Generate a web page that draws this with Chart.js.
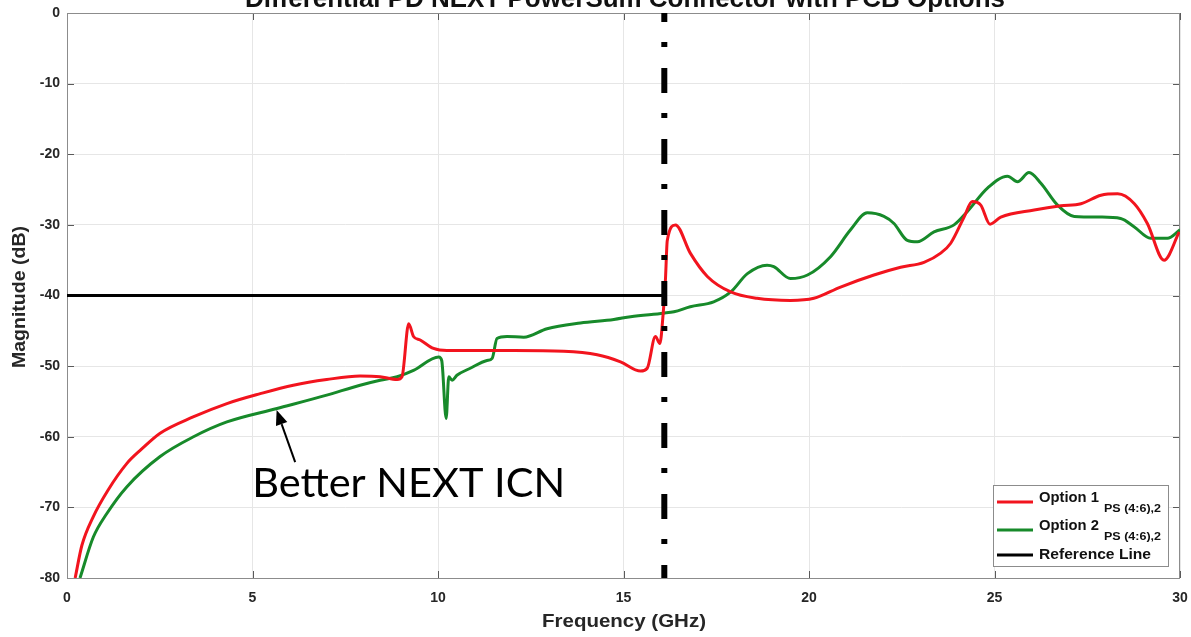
<!DOCTYPE html>
<html><head><meta charset="utf-8">
<script src="https://cdn.jsdelivr.net/npm/chart.js@4/dist/chart.umd.min.js"></script>
<style>html,body{margin:0;padding:0;background:#fff;overflow:hidden}</style></head>
<body><canvas id="c" width="1191" height="637"></canvas>
<script>
const xTicks = [0, 5, 10, 15, 20, 25, 30];
const yTicks = [0, -10, -20, -30, -40, -50, -60, -70, -80];

const opt1X = [0.22,0.4,0.7,1.1,1.61,2.0,2.51,3.4,4.31,5.21,6.1,7.0,7.9,8.44,8.9,9.03,9.21,9.34,9.52,9.88,10.24,12.04,13.39,14.29,14.92,15.46,15.64,15.86,15.98,16.07,16.13,16.18,16.4,16.8,17.26,17.89,18.6,19.5,20.13,20.85,21.75,22.47,23.1,23.55,23.82,24.18,24.4,24.63,24.88,25.17,26.07,26.79,27.33,27.87,28.32,28.77,29.12,29.57,29.98];
const opt1Y = [-80,-75.4,-71.4,-67.6,-63.8,-61.8,-59.5,-57.2,-55.3,-53.9,-52.7,-51.9,-51.4,-51.5,-51.9,-51.5,-44.0,-45.8,-46.3,-47.5,-47.8,-47.8,-47.9,-48.4,-49.4,-50.7,-50.3,-45.8,-46.8,-42.5,-37.8,-32.2,-30.0,-34.0,-37.3,-39.5,-40.4,-40.7,-40.4,-38.8,-37.1,-36.0,-35.3,-34.0,-32.6,-28.9,-26.7,-27.2,-29.9,-28.9,-27.9,-27.3,-27.0,-25.8,-25.6,-27.0,-29.8,-35.0,-31.0];

const opt2X = [0.35,0.71,1.07,1.61,2.51,3.41,4.31,5.66,7.0,7.9,8.44,8.9,9.34,10.02,10.1,10.22,10.29,10.38,10.51,10.87,11.32,11.46,11.59,11.86,12.31,12.94,13.84,14.74,15.19,16.08,16.36,16.8,17.43,17.89,18.34,18.87,19.05,19.5,19.96,20.58,21.12,21.57,22.02,22.29,22.65,22.92,23.37,23.91,24.27,24.81,25.35,25.62,25.93,26.25,26.7,27.15,27.87,28.4,28.77,29.21,29.66,30.0];
const opt2Y = [-80,-74.2,-70.9,-67.1,-62.8,-60.0,-57.9,-56.0,-54.1,-52.7,-52.0,-51.5,-50.6,-48.7,-49.2,-57.4,-51.5,-52.0,-51.3,-50.3,-49.2,-48.9,-46.1,-45.8,-45.9,-44.7,-43.9,-43.4,-43.0,-42.5,-42.3,-41.6,-40.9,-39.5,-36.9,-35.7,-35.9,-37.6,-37.1,-34.5,-30.7,-28.3,-28.8,-29.8,-32.2,-32.4,-31.0,-30.0,-28.1,-24.8,-23.1,-23.9,-22.6,-24.1,-27.2,-28.8,-28.9,-29.1,-30.3,-31.9,-31.9,-30.7];

const refLineX = [0, 16.1];
const refLineY = [-40, -40];
const markerX = [16.1, 16.1];
const markerY = [0, -80];

const seriesNames = ['Option 1', 'Option 2', 'Reference Line'];
const seriesSubs = ['PS (4:6),2', 'PS (4:6),2', ''];
const seriesColors = ['#f2141e', '#178a2a', '#000000'];
const titleText = 'Differential PD NEXT PowerSum Connector with PCB Options';
const xTitle = 'Frequency (GHz)';
const yTitle = 'Magnitude (dB)';
const annotationText = 'Better NEXT ICN';
const annotationTextPos = [4.99, -68.5];
const arrowTail = [6.15, -63.6];
const arrowTip = [5.65, -56.2];

const pts = (xs, ys) => xs.map((x, i) => ({x, y: ys[i]}));
const tickColor = '#262626';
const FAM = '"Liberation Sans", Arial, sans-serif';

function fitText(ctx, text, x, y, width) {
  const w = ctx.measureText(text).width;
  ctx.save();
  ctx.translate(x, y);
  ctx.scale(width / w, 1);
  ctx.fillText(text, 0, 0);
  ctx.restore();
}

const decor = {
  id: 'decor',
  beforeDatasetsDraw(chart) {
    const {ctx, chartArea: a, scales: {x, y}} = chart;
    ctx.save();
    ctx.strokeStyle = '#5a5a5a';
    ctx.lineWidth = 1;
    ctx.beginPath();
    xTicks.forEach(v => {
      const px = Math.round(x.getPixelForValue(v)) + 0.5;
      ctx.moveTo(px, a.bottom); ctx.lineTo(px, a.bottom - 7);
      ctx.moveTo(px, a.top); ctx.lineTo(px, a.top + 7);
    });
    yTicks.forEach(v => {
      const py = Math.round(y.getPixelForValue(v)) + 0.5;
      ctx.moveTo(a.left, py); ctx.lineTo(a.left + 7, py);
      ctx.moveTo(a.right, py); ctx.lineTo(a.right - 7, py);
    });
    ctx.stroke();
    ctx.strokeStyle = '#8c8c8c';
    ctx.strokeRect(a.left + 0.5, a.top + 0.5, a.right - a.left - 1, a.bottom - a.top);
    ctx.restore();
  },
  afterDraw(chart) {
    const {ctx, chartArea: a, scales: {x, y}} = chart;
    ctx.save();
    // title (clipped at top)
    ctx.fillStyle = '#111';
    ctx.font = 'bold 25px ' + FAM;
    ctx.textAlign = 'center';
    ctx.textBaseline = 'alphabetic';
    fitText(ctx, titleText, 625, 7, 760);
    // axis titles
    ctx.fillStyle = '#262626';
    ctx.font = 'bold 18px ' + FAM;
    ctx.textBaseline = 'middle';
    fitText(ctx, xTitle, 624, 622, 164);
    ctx.save();
    ctx.translate(20, 297);
    ctx.rotate(-Math.PI / 2);
    fitText(ctx, yTitle, 0, 0, 142);
    ctx.restore();
    // legend
    const bw = 175, bh = 81;
    const bx = a.right - 12 - bw, by = a.bottom - 12 - bh;
    ctx.fillStyle = '#fff';
    ctx.fillRect(bx, by, bw, bh);
    ctx.strokeStyle = '#8c8c8c';
    ctx.lineWidth = 1;
    ctx.strokeRect(bx + 0.5, by + 0.5, bw, bh);
    const rows = [17, 45, 70];
    seriesNames.forEach((n, i) => {
      const ry = by + rows[i];
      ctx.strokeStyle = seriesColors[i];
      ctx.lineWidth = 3;
      ctx.beginPath();
      ctx.moveTo(bx + 4, ry); ctx.lineTo(bx + 40, ry);
      ctx.stroke();
      ctx.fillStyle = '#111';
      ctx.textAlign = 'left';
      ctx.textBaseline = 'middle';
      ctx.font = 'bold 14px ' + FAM;
      const target = i === 2 ? 112 : 60;
      fitText(ctx, n, bx + 46, ry - (seriesSubs[i] ? 4 : 0), target);
      if (seriesSubs[i]) {
        ctx.font = 'bold 10px ' + FAM;
        fitText(ctx, seriesSubs[i], bx + 46 + target + 5, ry + 7, 57);
      }
    });
    // annotation
    ctx.fillStyle = '#000';
    ctx.font = '40px Lato, "Open Sans", sans-serif';
    ctx.textAlign = 'left';
    ctx.textBaseline = 'alphabetic';
    const tx = x.getPixelForValue(annotationTextPos[0]);
    const ty = y.getPixelForValue(annotationTextPos[1]);
    fitText(ctx, annotationText, tx, ty, 313);
    const x1 = x.getPixelForValue(arrowTail[0]), y1 = y.getPixelForValue(arrowTail[1]);
    const x2 = x.getPixelForValue(arrowTip[0]), y2 = y.getPixelForValue(arrowTip[1]);
    const ang = Math.atan2(y2 - y1, x2 - x1);
    const hl = 15, hw = 6;
    const bxp = x2 - hl * Math.cos(ang), byp = y2 - hl * Math.sin(ang);
    ctx.strokeStyle = '#000';
    ctx.lineWidth = 2;
    ctx.beginPath(); ctx.moveTo(x1, y1); ctx.lineTo(bxp, byp); ctx.stroke();
    ctx.beginPath();
    ctx.moveTo(x2, y2);
    ctx.lineTo(bxp + hw * Math.sin(ang), byp - hw * Math.cos(ang));
    ctx.lineTo(bxp - hw * Math.sin(ang), byp + hw * Math.cos(ang));
    ctx.closePath(); ctx.fill();
    ctx.restore();
  }
};

new Chart(document.getElementById('c'), {
  type: 'scatter',
  data: {
    datasets: [
      {label: 'Reference Line', data: pts(refLineX, refLineY), showLine: true, borderColor: '#000', borderWidth: 3, pointRadius: 0, order: 3},
      {label: 'Option 2', data: pts(opt2X, opt2Y), showLine: true, borderColor: seriesColors[1], borderWidth: 3, pointRadius: 0, cubicInterpolationMode: 'monotone', order: 2},
      {label: 'Option 1', data: pts(opt1X, opt1Y), showLine: true, borderColor: seriesColors[0], borderWidth: 3, pointRadius: 0, cubicInterpolationMode: 'monotone', order: 1},
      {label: 'marker', data: pts(markerX, markerY), showLine: true, borderColor: '#000', borderWidth: 6, pointRadius: 0, borderDash: [25, 20, 5, 21], borderDashOffset: 16, borderCapStyle: 'butt', order: 0}
    ]
  },
  options: {
    responsive: false,
    animation: false,
    devicePixelRatio: 1,
    layout: {padding: {left: 0, top: 13, right: 11, bottom: 0}},
    plugins: {legend: {display: false}, tooltip: {enabled: false}},
    scales: {
      x: {
        type: 'linear', min: 0, max: 30,
        afterBuildTicks: ax => { ax.ticks = xTicks.map(v => ({value: v})); },
        afterFit: ax => { ax.height = 59; ax.paddingRight = 0; ax.paddingLeft = 0; },
        grid: {color: '#e6e6e6', drawTicks: false},
        border: {display: false},
        ticks: {color: tickColor, font: {family: FAM, size: 14, weight: 'bold'}, padding: 12, maxRotation: 0}
      },
      y: {
        type: 'linear', min: -80, max: 0,
        afterBuildTicks: ax => { ax.ticks = yTicks.map(v => ({value: v})); },
        afterFit: ax => { ax.width = 67; ax.paddingTop = 0; ax.paddingBottom = 0; },
        grid: {color: '#e6e6e6', drawTicks: false},
        border: {display: false},
        ticks: {color: tickColor, font: {family: FAM, size: 14, weight: 'bold'}, padding: 7}
      }
    }
  },
  plugins: [decor]
});
</script>
</body></html>
